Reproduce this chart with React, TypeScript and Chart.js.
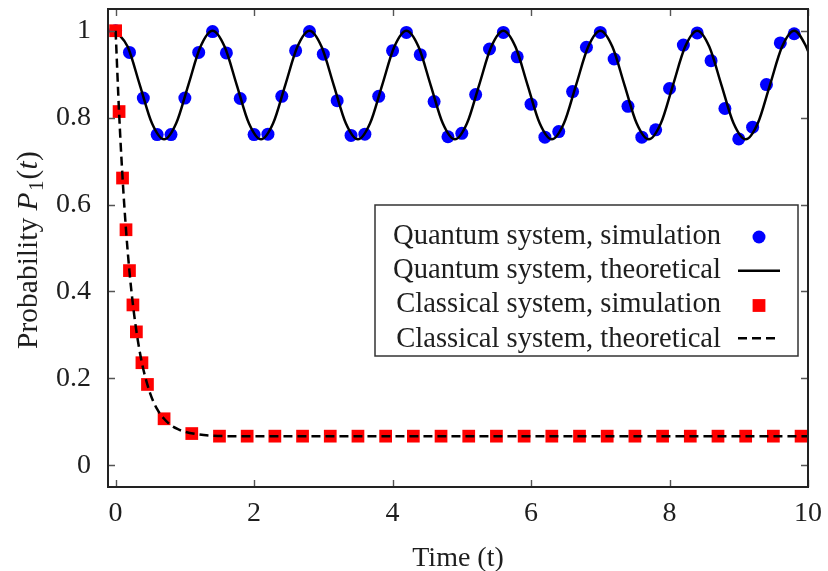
import React, { useEffect, useRef } from 'react';
import { Chart, registerables } from 'chart.js';

Chart.register(...registerables);

const FONT = '"Liberation Serif", "Times New Roman", serif';
const TEXT_COLOR = '#1e1e1e';

// Quantum system, simulation (blue dots)
const quantumSimT = [
  0, 0.2, 0.4, 0.6, 0.8, 1.0, 1.2, 1.4, 1.6, 1.8,
  2.0, 2.2, 2.4, 2.6, 2.8, 3.0, 3.2, 3.4, 3.6, 3.8,
  4.0, 4.2, 4.4, 4.6, 4.8, 5.0, 5.2, 5.4, 5.6, 5.8,
  6.0, 6.2, 6.4, 6.6, 6.8, 7.0, 7.2, 7.4, 7.6, 7.8,
  8.0, 8.2, 8.4, 8.6, 8.8, 9.0, 9.2, 9.4, 9.6, 9.8,
];
const quantumSimP = [
  1.0, 0.95, 0.845, 0.761, 0.761, 0.845, 0.95, 0.998, 0.949, 0.844,
  0.761, 0.762, 0.849, 0.954, 0.998, 0.946, 0.839, 0.759, 0.762, 0.849,
  0.954, 0.996, 0.945, 0.837, 0.756, 0.764, 0.853, 0.958, 0.996, 0.94,
  0.831, 0.755, 0.768, 0.86, 0.962, 0.996, 0.935, 0.826, 0.755, 0.772,
  0.867, 0.967, 0.995, 0.931, 0.821, 0.751, 0.778, 0.876, 0.972, 0.993,
];

// Quantum system, theoretical (solid line)
const quantumTheoryT = [
  0, 0.175, 0.35, 0.525, 0.7, 0.875, 1.05, 1.225,
  1.4, 1.575, 1.75, 1.925, 2.1, 2.275, 2.45, 2.625,
  2.8, 2.975, 3.15, 3.325, 3.5, 3.675, 3.85, 4.025,
  4.2, 4.375, 4.55, 4.725, 4.9, 5.075, 5.25, 5.425,
  5.6, 5.775, 5.95, 6.125, 6.3, 6.475, 6.65, 6.825,
  7.0, 7.175, 7.35, 7.525, 7.7, 7.875, 8.05, 8.225,
  8.4, 8.575, 8.75, 8.925, 9.1, 9.275, 9.45, 9.625,
  9.8, 9.975, 10,
];
const quantumTheoryP = [
  1, 0.963, 0.875, 0.787, 0.75, 0.787, 0.875, 0.963,
  1, 0.963, 0.875, 0.787, 0.75, 0.787, 0.875, 0.963,
  1, 0.963, 0.875, 0.787, 0.75, 0.787, 0.875, 0.963,
  1, 0.963, 0.875, 0.787, 0.75, 0.787, 0.875, 0.963,
  1, 0.963, 0.875, 0.787, 0.75, 0.787, 0.875, 0.963,
  1, 0.963, 0.875, 0.787, 0.75, 0.787, 0.875, 0.963,
  1, 0.963, 0.875, 0.787, 0.75, 0.787, 0.875, 0.963,
  1, 0.963, 0.953,
];

// Classical system, simulation (red squares)
const classicalSimT = [
  0, 0.05, 0.1, 0.15, 0.2, 0.25, 0.3, 0.38, 0.46, 0.7, 1.1,
  1.5, 1.9, 2.3, 2.7, 3.1, 3.5, 3.9, 4.3, 4.7, 5.1, 5.5,
  5.9, 6.3, 6.7, 7.1, 7.5, 7.9, 8.3, 8.7, 9.1, 9.5, 9.9,
];
const classicalSimP = [
  1.0, 0.814, 0.661, 0.542, 0.448, 0.369, 0.307, 0.236, 0.186, 0.107, 0.073,
  0.067, 0.067, 0.067, 0.067, 0.067, 0.067, 0.067, 0.067, 0.067, 0.067, 0.067,
  0.067, 0.067, 0.067, 0.067, 0.067, 0.067, 0.067, 0.067, 0.067, 0.067, 0.067,
];

// Classical system, theoretical (dashed line)
const classicalTheoryT = [
  0, 0.05, 0.1, 0.15, 0.2, 0.25, 0.3, 0.35, 0.4, 0.5,
  0.6, 0.7, 0.8, 0.9, 1.0, 1.2, 1.4, 1.7, 2.0, 10,
];
const classicalTheoryP = [
  1.0, 0.812, 0.662, 0.542, 0.446, 0.37, 0.309, 0.26, 0.221, 0.165,
  0.129, 0.107, 0.092, 0.083, 0.077, 0.071, 0.068, 0.067, 0.067, 0.067,
];

const xTicks = [0, 2, 4, 6, 8, 10];
const xTickLabels = ['0', '2', '4', '6', '8', '10'];
const yTicks = [0, 0.2, 0.4, 0.6, 0.8, 1];
const yTickLabels = ['0', '0.2', '0.4', '0.6', '0.8', '1'];

const legendLabels = [
  'Quantum system, simulation',
  'Quantum system, theoretical',
  'Classical system, simulation',
  'Classical system, theoretical',
];

const xTitle = 'Time (t)';

const BLUE = '#0000ff';
const RED = '#ff0000';
const BLACK = '#000000';

function zip(xs: number[], ys: number[]) {
  return xs.map((x, i) => ({ x, y: ys[i] }));
}

const decorPlugin = {
  id: 'decor',
  afterDatasetsDraw(chart: any) {
    const { ctx, chartArea: ca, scales } = chart;
    ctx.save();

    // inward tick marks on all four sides
    ctx.strokeStyle = '#555';
    ctx.lineWidth = 1.4;
    const tl = 7;
    ctx.beginPath();
    for (const v of xTicks) {
      const px = Math.round(scales.x.getPixelForValue(v)) + 0.5;
      ctx.moveTo(px, ca.bottom);
      ctx.lineTo(px, ca.bottom - tl);
      ctx.moveTo(px, ca.top);
      ctx.lineTo(px, ca.top + tl);
    }
    for (const v of yTicks) {
      const py = Math.round(scales.y.getPixelForValue(v)) + 0.5;
      ctx.moveTo(ca.left, py);
      ctx.lineTo(ca.left + tl, py);
      ctx.moveTo(ca.right, py);
      ctx.lineTo(ca.right - tl, py);
    }
    ctx.stroke();

    // frame
    ctx.strokeStyle = '#222';
    ctx.lineWidth = 2;
    ctx.strokeRect(ca.left, ca.top, ca.right - ca.left, ca.bottom - ca.top);

    // legend box
    const bx = ca.left + 267;
    const by = ca.top + 196;
    const bw = 423;
    const bh = 151;
    ctx.fillStyle = '#fff';
    ctx.fillRect(bx, by, bw, bh);
    ctx.strokeStyle = '#333';
    ctx.lineWidth = 1.5;
    ctx.strokeRect(bx, by, bw, bh);

    ctx.font = `28.6px ${FONT}`;
    ctx.fillStyle = TEXT_COLOR;
    ctx.textAlign = 'right';
    ctx.textBaseline = 'alphabetic';
    const textRight = ca.left + 613;
    const baselines = [234.5, 269, 303, 337.5];
    const symCenters = [228, 261.7, 296.5, 329.3];
    const symX = ca.left + 651;
    legendLabels.forEach((lab, i) => {
      ctx.fillText(lab, textRight, ca.top + baselines[i]);
    });
    // symbols
    ctx.fillStyle = BLUE;
    ctx.beginPath();
    ctx.arc(symX, ca.top + symCenters[0], 6.5, 0, Math.PI * 2);
    ctx.fill();
    ctx.strokeStyle = BLACK;
    ctx.lineWidth = 2.5;
    ctx.beginPath();
    ctx.moveTo(symX - 21, ca.top + symCenters[1]);
    ctx.lineTo(symX + 21, ca.top + symCenters[1]);
    ctx.stroke();
    ctx.fillStyle = RED;
    ctx.fillRect(symX - 6.4, ca.top + symCenters[2] - 6.4, 12.8, 12.8);
    ctx.setLineDash([9, 5]);
    ctx.beginPath();
    ctx.moveTo(symX - 21, ca.top + symCenters[3]);
    ctx.lineTo(symX + 21, ca.top + symCenters[3]);
    ctx.stroke();
    ctx.setLineDash([]);

    // x axis title
    ctx.fillStyle = TEXT_COLOR;
    ctx.textAlign = 'center';
    ctx.textBaseline = 'alphabetic';
    ctx.font = `28px ${FONT}`;
    ctx.fillText(xTitle, (ca.left + ca.right) / 2, ca.bottom + 79);

    // y axis title: Probability P_1(t)
    const parts = [
      { t: 'Probability ', f: `29.5px ${FONT}`, dy: 0, gap: 0 },
      { t: 'P', f: `italic 29.5px ${FONT}`, dy: 0, gap: 1.5 },
      { t: '1', f: `21px ${FONT}`, dy: 6, gap: 1 },
      { t: '(', f: `29.5px ${FONT}`, dy: 0, gap: 0 },
      { t: 't', f: `italic 29.5px ${FONT}`, dy: 0, gap: 0.5 },
      { t: ')', f: `29.5px ${FONT}`, dy: 0, gap: 0 },
    ];
    let total = 0;
    const widths = parts.map((p) => {
      ctx.font = p.f;
      const w = ctx.measureText(p.t).width + p.gap;
      total += w;
      return w;
    });
    ctx.translate(37, (ca.top + ca.bottom) / 2 + 2);
    ctx.rotate(-Math.PI / 2);
    ctx.textAlign = 'left';
    let u = -total / 2;
    parts.forEach((p, i) => {
      ctx.font = p.f;
      ctx.fillText(p.t, u, p.dy);
      u += widths[i];
    });

    ctx.restore();
  },
};

export default function App() {
  const canvasRef = useRef<HTMLCanvasElement | null>(null);

  useEffect(() => {
    document.body.style.margin = '0';
    const canvas = canvasRef.current;
    if (!canvas) return;
    const chart = new Chart(canvas, {
      type: 'scatter',
      data: {
        datasets: [
          {
            label: legendLabels[0],
            data: zip(quantumSimT, quantumSimP),
            showLine: false,
            pointStyle: 'circle',
            pointRadius: 6.5,
            pointBackgroundColor: BLUE,
            pointBorderWidth: 0,
            borderColor: BLUE,
            order: 4,
          },
          {
            label: legendLabels[1],
            data: zip(quantumTheoryT, quantumTheoryP),
            showLine: true,
            borderColor: BLACK,
            borderWidth: 2.5,
            pointRadius: 0,
            cubicInterpolationMode: 'monotone',
            order: 3,
          },
          {
            label: legendLabels[2],
            data: zip(classicalSimT, classicalSimP),
            showLine: false,
            pointStyle: 'rect',
            pointRadius: 9,
            pointBackgroundColor: RED,
            pointBorderWidth: 0,
            borderColor: RED,
            order: 2,
          },
          {
            label: legendLabels[3],
            data: zip(classicalTheoryT, classicalTheoryP),
            showLine: true,
            borderColor: BLACK,
            borderWidth: 2.5,
            borderDash: [9, 5],
            pointRadius: 0,
            cubicInterpolationMode: 'monotone',
            order: 1,
          },
        ],
      },
      options: {
        animation: false,
        responsive: false,
        devicePixelRatio: 1,
        layout: { padding: { left: 0, right: 20, top: 9, bottom: 0 } },
        plugins: {
          legend: { display: false },
          tooltip: { enabled: false },
        },
        scales: {
          x: {
            type: 'linear',
            min: -0.11,
            max: 10,
            grid: { display: false, drawTicks: false },
            border: { display: false },
            afterBuildTicks: (scale: any) => {
              scale.ticks = xTicks.map((v) => ({ value: v }));
            },
            afterFit: (scale: any) => {
              scale.height = 84;
              scale.paddingLeft = 0;
              scale.paddingRight = 0;
              scale.paddingTop = 0;
              scale.paddingBottom = 0;
            },
            ticks: {
              padding: 10,
              color: TEXT_COLOR,
              font: { family: FONT, size: 28 },
              maxRotation: 0,
              autoSkip: false,
              callback: (_v: any, i: number) => xTickLabels[i],
            },
          },
          y: {
            type: 'linear',
            min: -0.05,
            max: 1.05,
            grid: { display: false, drawTicks: false },
            border: { display: false },
            afterBuildTicks: (scale: any) => {
              scale.ticks = yTicks.map((v) => ({ value: v }));
            },
            afterFit: (scale: any) => {
              scale.width = 108;
              scale.paddingLeft = 0;
              scale.paddingRight = 0;
              scale.paddingTop = 0;
              scale.paddingBottom = 0;
            },
            ticks: {
              padding: 17,
              color: TEXT_COLOR,
              font: { family: FONT, size: 28 },
              autoSkip: false,
              callback: (_v: any, i: number) => yTickLabels[i],
            },
          },
        },
      },
      plugins: [decorPlugin],
    });
    return () => chart.destroy();
  }, []);

  return (
    <div style={{ width: 828, height: 571, position: 'relative', background: '#fff' }}>
      <canvas ref={canvasRef} width={828} height={571} />
    </div>
  );
}
